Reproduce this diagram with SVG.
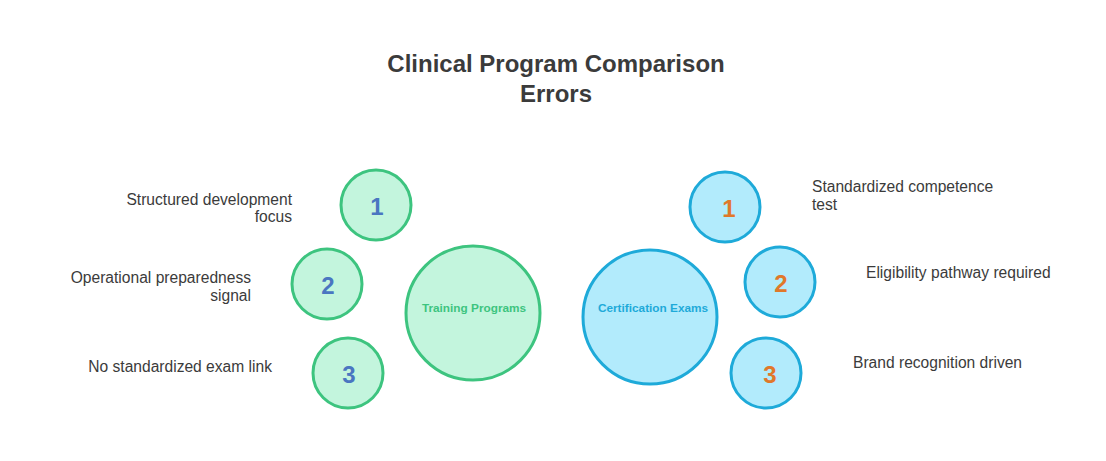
<svg xmlns="http://www.w3.org/2000/svg" width="1106" height="461" viewBox="0 0 1106 461">
<style>
.title{font-family:"Liberation Sans",Arial,sans-serif;font-size:24px;font-weight:bold;fill:#3b3b3b;text-anchor:middle}
.lbl{font-family:"Liberation Sans",Arial,sans-serif;font-size:15.6px;fill:#3b3b3b}
.g{fill:#c3f5dd;stroke:#3dc47f;stroke-width:3}
.b{fill:#b2ebfc;stroke:#1eaad9;stroke-width:3}
.numl{font-family:"Liberation Sans",Arial,sans-serif;font-size:24px;font-weight:bold;fill:#4a76c1;text-anchor:middle}
.numr{font-family:"Liberation Sans",Arial,sans-serif;font-size:24px;font-weight:bold;fill:#e0782a;text-anchor:middle}
.big{font-family:"Liberation Sans",Arial,sans-serif;font-size:11.8px;font-weight:bold;text-anchor:middle}
</style>
<rect width="1106" height="461" fill="#ffffff"/>
<g id="title">
<text class="title" x="556" y="72">Clinical Program Comparison</text>
<text class="title" x="556" y="102">Errors</text>
</g>
<g id="connectors"/>
<g id="training">
<circle class="g" cx="473" cy="313" r="67"/>
<text class="big" x="474" y="312" fill="#3dc47f">Training Programs</text>
</g>
<g id="certification">
<circle class="b" cx="650" cy="317" r="67"/>
<text class="big" x="653" y="312" fill="#1eaad9">Certification Exams</text>
</g>
<g id="left1">
<circle class="g" cx="376" cy="205" r="35"/>
<text class="numl" x="377" y="215">1</text>
<text class="lbl" x="292" y="205" text-anchor="end">Structured development</text>
<text class="lbl" x="292" y="222" text-anchor="end">focus</text>
</g>
<g id="left2">
<circle class="g" cx="327" cy="284" r="35"/>
<text class="numl" x="328" y="294">2</text>
<text class="lbl" x="251" y="283" text-anchor="end">Operational preparedness</text>
<text class="lbl" x="251" y="301" text-anchor="end">signal</text>
</g>
<g id="left3">
<circle class="g" cx="348" cy="373" r="35"/>
<text class="numl" x="349" y="383">3</text>
<text class="lbl" x="272" y="372" text-anchor="end">No standardized exam link</text>
</g>
<g id="right1">
<circle class="b" cx="725" cy="207" r="35"/>
<text class="numr" x="729" y="217">1</text>
<text class="lbl" x="812" y="192">Standardized competence</text>
<text class="lbl" x="812" y="210">test</text>
</g>
<g id="right2">
<circle class="b" cx="780" cy="282" r="35"/>
<text class="numr" x="781" y="292">2</text>
<text class="lbl" x="866" y="278">Eligibility pathway required</text>
</g>
<g id="right3">
<circle class="b" cx="766" cy="373" r="35"/>
<text class="numr" x="770" y="383">3</text>
<text class="lbl" x="853" y="368">Brand recognition driven</text>
</g>
</svg>
